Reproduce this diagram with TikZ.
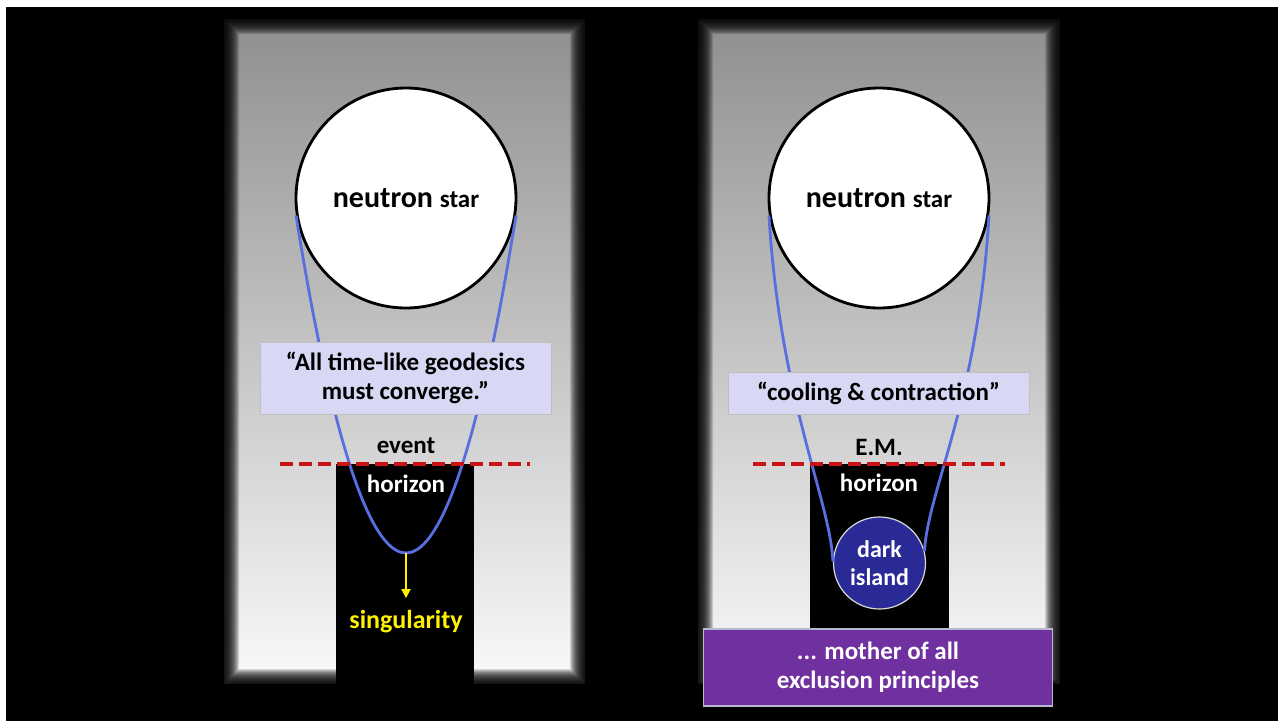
\documentclass[tikz,border=0pt]{standalone}
\usepackage{fontspec}
\setmainfont{Carlito}
\usetikzlibrary{calc,arrows.meta}
\definecolor{geoblue}{RGB}{88,110,225}
\definecolor{lavender}{RGB}{216,216,245}
\definecolor{hzred}{RGB}{200,20,20}
\definecolor{islandblue}{RGB}{42,42,150}
\definecolor{mother}{RGB}{112,48,160}
\def\fuzzypanel(#1,#2)(#3,#4){\shade[top color=black!44, bottom color=black!2] (#1,#2) rectangle (#3,#4);
	\foreach \k in {1,...,16} {\fill[black, even odd rule, fill opacity=0.14] (#1,#2) rectangle (#3,#4) ($(#1,#2)+(\k,\k)$) rectangle ($(#3,#4)+(-\k,-\k)$);}
	\draw[black, line width=2.5pt] (#1,#2) rectangle (#3,#4);}

\begin{document}
\begin{tikzpicture}[x=1pt, y=-1pt, font=\bfseries\fontsize{25}{29}\selectfont,
	nstar/.style={circle, draw=black, line width=2.8pt, fill=white, minimum size=220pt, inner sep=0pt},
	geod/.style={line width=2.8pt, color=geoblue},
	quote/.style={draw=black!25, line width=0.8pt, fill=lavender, align=center, inner sep=0pt},
	hzline/.style={line width=3.2pt, color=hzred, dash pattern=on 13pt off 6pt}]
			%%%%% START %%%%%
			\useasboundingbox (0,0) rectangle (1283,721);
			\fill[white] (0,0) rectangle (1283,721);
			\fill[black] (6,7) rectangle (1278,721);
			
			\fuzzypanel(223,18)(586,685)
			\fuzzypanel(697,18)(1061,685)
			
			%%%%% LEFT %%%%%
			\fill[black] (336,464) rectangle (474,686);
			\node[nstar] (nsL) at (406,198) {\fontsize{30}{34}\selectfont neutron {\fontsize{25}{29}\selectfont star}};
			\coordinate (bendL) at (406,553);
			\draw[geod] (nsL.189) parabola bend (bendL) (nsL.-9);
			\node[quote, minimum width=291pt, minimum height=72pt] (qL) at (405.5,378) {“All time-like geodesics\\must converge.”};
			
			\draw[hzline] (280,464) -- (530,464);
			\node (evL) at (406,446) {event};
			\node[text=white] (hzL) at (406,484) {horizon};
			
			\node[text=yellow] (sing) at (406,622) {\fontsize{26}{30}\selectfont singularity};
			\draw[line width=1.5pt, color=yellow, -{Triangle[length=9pt, width=9pt]}, shorten >=9pt] (bendL) -- (sing.north);
			
			%%%%% RIGHT %%%%%
			\fill[black] (810,464) rectangle (949,629);
			\node[nstar] (nsR) at (879,198) {\fontsize{30}{34}\selectfont neutron {\fontsize{25}{29}\selectfont star}};
			\node[circle, draw=black!15!white, line width=1.2pt, fill=islandblue, minimum size=92pt, inner sep=0pt, text=white, align=center, font=\bfseries\fontsize{24}{28}\selectfont] (isl) at (879.5,563) {dark\\island};
			\draw[geod] (nsR.189) .. controls (780,400) and (830,500) .. (isl.178);
			\draw[geod] (nsR.-9) .. controls (978,400) and (928,490) .. (isl.15);
			\node[quote, minimum width=301pt, minimum height=42pt] (qR) at (878.5,393) {“cooling \& contraction”};
			
			\draw[hzline] (753,464) -- (1005,464);
			\node (emR) at (879,447) {E.M.};
			\node[text=white] (hzR) at (879,483) {horizon};
			
			\node[draw=black!15!lavender, line width=1.2pt, fill=mother, text=white, align=center, minimum width=349pt, minimum height=77pt, inner sep=0pt] (moth) at (878,667.5) {\fontsize{25}{32}\selectfont ... mother of all\\exclusion principles};
			
			%%%%% END %%%%%
\end{tikzpicture}
\end{document}
